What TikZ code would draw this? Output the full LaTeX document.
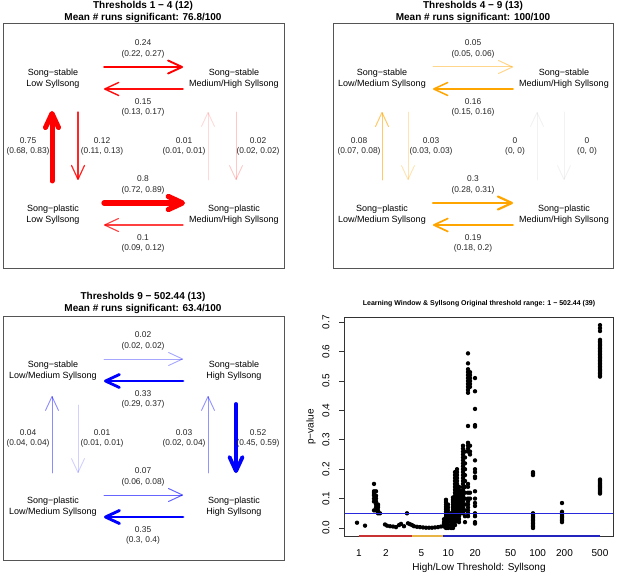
\documentclass[tikz,border=0pt]{standalone}
\usepackage{fontspec}
\setmainfont{Liberation Sans}
\usetikzlibrary{arrows.meta}
\definecolor{cred}{RGB}{255,0,0}
\definecolor{corange}{RGB}{255,165,0}
\definecolor{cblue}{RGB}{0,0,255}
\definecolor{framegray}{RGB}{85,85,85}
\definecolor{segred}{RGB}{200,50,50}
\definecolor{segorange}{RGB}{232,180,70}
\definecolor{segblue}{RGB}{35,35,190}
\definecolor{refblue}{RGB}{40,40,220}
\newcommand{\pcol}[2]{\foreach \pp in {#2} \fill (#1,{528-294*\pp}) circle[radius=2.2pt];}
\begin{document}
\begin{tikzpicture}[x=1pt,y=-1pt,
  state/.style={align=center, font=\fontsize{9}{11}\selectfont, inner sep=0pt},
  lab/.style={align=center, font=\fontsize{8.4}{10.5}\selectfont, inner sep=0pt, text=black!85},
  ttl/.style={align=center, font=\bfseries\fontsize{10}{12}\selectfont, inner sep=0pt},
  panel/.style={draw=framegray, line width=1pt},
  arr/.style n args={3}{draw=#1, draw opacity=#2, line width=#3, line cap=round,
     -{Straight Barb[length=14pt,width=13pt,round]}},
  axlab/.style={font=\fontsize{10}{12}\selectfont, inner sep=0pt},
  refline/.style={draw=refblue, line width=1.1pt}]
\useasboundingbox (0,0) rectangle (617,577);

% ================= Panel 1 =================
\node[ttl] (t1) at (143,12) {Thresholds 1 − 4 (12)\\Mean \# runs significant: 76.8/100};
\draw[panel] (3,24) rectangle (284,268);
\node[state] (a1) at (53,78.5) {Song−stable\\Low Syllsong};
\node[state] (b1) at (234,78.5) {Song−stable\\Medium/High Syllsong};
\node[state] (c1) at (53,214.5) {Song−plastic\\Low Syllsong};
\node[state] (d1) at (234,214.5) {Song−plastic\\Medium/High Syllsong};
\coordinate (p1ta) at (104,67); \coordinate (p1tb) at (183,67);
\coordinate (p1tc) at (183,89); \coordinate (p1td) at (104,89);
\coordinate (p1la) at (52,181); \coordinate (p1lb) at (52,111);
\coordinate (p1lc) at (78,112); \coordinate (p1ld) at (78,180);
\coordinate (p1ra) at (208,180); \coordinate (p1rb) at (208,112);
\coordinate (p1rc) at (236,112); \coordinate (p1rd) at (236,180);
\coordinate (p1ba) at (104,203); \coordinate (p1bb) at (185,203);
\coordinate (p1bc) at (183,225); \coordinate (p1bd) at (104,225);
\draw[arr={cred}{1}{1.9}] (p1ta) -- (p1tb);
\draw[arr={cred}{0.95}{1.4}] (p1tc) -- (p1td);
\draw[arr={cred}{1}{5}] (p1la) -- (p1lb);
\draw[arr={cred}{0.85}{1.2}] (p1lc) -- (p1ld);
\draw[arr={cred}{0.15}{0.9}] (p1ra) -- (p1rb);
\draw[arr={cred}{0.22}{0.9}] (p1rc) -- (p1rd);
\draw[arr={cred}{1}{5.3}] (p1ba) -- (p1bb);
\draw[arr={cred}{0.75}{1.1}] (p1bc) -- (p1bd);
\node[lab] (l1a) at (143,49) {0.24\\(0.22, 0.27)};
\node[lab] (l1b) at (143,107.5) {0.15\\(0.13, 0.17)};
\node[lab] (l1c) at (28,146.5) {0.75\\(0.68, 0.83)};
\node[lab] (l1d) at (102,146.5) {0.12\\(0.11, 0.13)};
\node[lab] (l1e) at (184,146.5) {0.01\\(0.01, 0.01)};
\node[lab] (l1f) at (258,146.5) {0.02\\(0.02, 0.02)};
\node[lab] (l1g) at (143,185) {0.8\\(0.72, 0.89)};
\node[lab] (l1h) at (143,243.5) {0.1\\(0.09, 0.12)};

% ================= Panel 2 =================
\node[ttl] (t2) at (473,12) {Thresholds 4 − 9 (13)\\Mean \# runs significant: 100/100};
\draw[panel] (333,24) rectangle (613,268);
\node[state] (a2) at (382,78.5) {Song−stable\\Low/Medium Syllsong};
\node[state] (b2) at (564,78.5) {Song−stable\\Medium/High Syllsong};
\node[state] (c2) at (382,214.5) {Song−plastic\\Low/Medium Syllsong};
\node[state] (d2) at (564,214.5) {Song−plastic\\Medium/High Syllsong};
\coordinate (p2ta) at (433,67); \coordinate (p2tb) at (513,67);
\coordinate (p2tc) at (513,89); \coordinate (p2td) at (433,89);
\coordinate (p2la) at (382,180); \coordinate (p2lb) at (382,112);
\coordinate (p2lc) at (408,112); \coordinate (p2ld) at (408,180);
\coordinate (p2ra) at (537,180); \coordinate (p2rb) at (537,112);
\coordinate (p2rc) at (564,112); \coordinate (p2rd) at (564,180);
\coordinate (p2ba) at (433,203); \coordinate (p2bb) at (513,203);
\coordinate (p2bc) at (513,225); \coordinate (p2bd) at (433,225);
\draw[arr={corange}{0.45}{1}] (p2ta) -- (p2tb);
\draw[arr={corange}{1}{1.5}] (p2tc) -- (p2td);
\draw[arr={corange}{0.6}{1}] (p2la) -- (p2lb);
\draw[arr={corange}{0.3}{0.9}] (p2lc) -- (p2ld);
\draw[arr={black}{0.05}{0.9}] (p2ra) -- (p2rb);
\draw[arr={black}{0.05}{0.9}] (p2rc) -- (p2rd);
\draw[arr={corange}{1}{2.2}] (p2ba) -- (p2bb);
\draw[arr={corange}{1}{1.7}] (p2bc) -- (p2bd);
\node[lab] (l2a) at (473,49) {0.05\\(0.05, 0.06)};
\node[lab] (l2b) at (473,107.5) {0.16\\(0.15, 0.16)};
\node[lab] (l2c) at (359,146.5) {0.08\\(0.07, 0.08)};
\node[lab] (l2d) at (431,146.5) {0.03\\(0.03, 0.03)};
\node[lab] (l2e) at (515,146.5) {0\\(0, 0)};
\node[lab] (l2f) at (587,146.5) {0\\(0, 0)};
\node[lab] (l2g) at (473,185) {0.3\\(0.28, 0.31)};
\node[lab] (l2h) at (473,243.5) {0.19\\(0.18, 0.2)};

% ================= Panel 3 =================
\node[ttl] (t3) at (143,303) {Thresholds 9 − 502.44 (13)\\Mean \# runs significant: 63.4/100};
\draw[panel] (3,316) rectangle (284,560);
\node[state] (a3) at (53,370.5) {Song−stable\\Low/Medium Syllsong};
\node[state] (b3) at (234,370.5) {Song−stable\\High Syllsong};
\node[state] (c3) at (53,506.5) {Song−plastic\\Low/Medium Syllsong};
\node[state] (d3) at (234,506.5) {Song−plastic\\High Syllsong};
\coordinate (p3ta) at (104,359); \coordinate (p3tb) at (183,359);
\coordinate (p3tc) at (183,381); \coordinate (p3td) at (104,381);
\coordinate (p3la) at (52,473); \coordinate (p3lb) at (52,396);
\coordinate (p3lc) at (78,405); \coordinate (p3ld) at (78,473);
\coordinate (p3ra) at (208,473); \coordinate (p3rb) at (208,396);
\coordinate (p3rc) at (236,404); \coordinate (p3rd) at (236,473);
\coordinate (p3ba) at (104,495); \coordinate (p3bb) at (183,495);
\coordinate (p3bc) at (183,517); \coordinate (p3bd) at (104,517);
\draw[arr={cblue}{0.35}{0.9}] (p3ta) -- (p3tb);
\draw[arr={cblue}{1}{2.8}] (p3tc) -- (p3td);
\draw[arr={cblue}{0.45}{0.9}] (p3la) -- (p3lb);
\draw[arr={cblue}{0.18}{0.9}] (p3lc) -- (p3ld);
\draw[arr={cblue}{0.42}{0.9}] (p3ra) -- (p3rb);
\draw[arr={cblue}{1}{3.9}] (p3rc) -- (p3rd);
\draw[arr={cblue}{0.6}{1}] (p3ba) -- (p3bb);
\draw[arr={cblue}{1}{2.9}] (p3bc) -- (p3bd);
\node[lab] (l3a) at (143,341) {0.02\\(0.02, 0.02)};
\node[lab] (l3b) at (143,399.5) {0.33\\(0.29, 0.37)};
\node[lab] (l3c) at (28,438.5) {0.04\\(0.04, 0.04)};
\node[lab] (l3d) at (102,438.5) {0.01\\(0.01, 0.01)};
\node[lab] (l3e) at (184,438.5) {0.03\\(0.02, 0.04)};
\node[lab] (l3f) at (258,438.5) {0.52\\(0.45, 0.59)};
\node[lab] (l3g) at (143,477) {0.07\\(0.06, 0.08)};
\node[lab] (l3h) at (143,535.5) {0.35\\(0.3, 0.4)};

% ================= Panel 4: scatter =================
\node[font=\bfseries\fontsize{7}{8}\selectfont, inner sep=0pt] (t4) at (479,304)
  {Learning Window \& Syllsong Original threshold range: 1 − 502.44 (39)};
% points
\foreach \x/\p in {357/0.018, 365/0.008, 380/0.05, 385/0.012, 387/0.008, 390/0.006, 393/0.005,
  396/0.003, 399/0.01, 401/0.014, 404/0.006, 407/0.05, 408/0.016, 410/0.013, 412/0.01,
  414/0.006, 417/0.004, 420/0.003, 423/0.002, 426/0.001, 429/0.001, 432/0.001, 435/0.002,
  438/0.003, 441/0.005}
  \fill (\x,{528-294*\p}) circle[radius=2.2pt];
\pcol{374}{0.15,0.125,0.12,0.115,0.11,0.1,0.09,0.06}
\pcol{376}{0.125,0.11,0.1,0.09,0.08,0.07,0.06}
\pcol{378}{0.08,0.075,0.07,0.06,0.05}
\pcol{444}{0.005,0.01,0.015,0.02,0.03}
\pcol{446}{0.0,0.008,...,0.096}
\pcol{448}{0.0,0.01,...,0.08}
\pcol{451}{0.0,0.01,...,0.05}
\pcol{453}{0.0,0.008,...,0.104}
\pcol{455}{0.01,0.02,...,0.2}
\pcol{457}{0.03,0.04,...,0.2}
\pcol{459}{0.02,0.03,...,0.14}
\pcol{461}{0.05,0.06,...,0.12}
\pcol{463}{0.05,0.06,...,0.28}
\pcol{465}{0.02,0.04,...,0.26}
\pcol{468}{0.594,0.56,0.54,0.53,0.52,0.51,0.5,0.49,0.48,0.47,0.46,0.347,0.29,0.28,0.27,0.26,0.15,0.14,0.12,0.1,0.09,0.08,0.07,0.06,0.05,0.04}
\pcol{470}{0.53,0.52,0.51,0.5,0.49,0.48,0.28,0.26,0.25,0.12,0.1}
\pcol{475}{0.51,0.465,0.405,0.35,0.345,0.23,0.2,0.19,0.175,0.17,0.125,0.1,0.085,0.075,0.05,0.04,0.02,0.015}
\pcol{533}{0.19,0.185,0.18,0.05,0.045,0.04,0.035,0.03,0.025,0.02,0.015,0.01,0.005,0.0}
\pcol{562}{0.085,0.055,0.05,0.045,0.04,0.035,0.03,0.025,0.02}
\pcol{600}{0.69,0.68,0.67,0.64,0.635,...,0.51}
\pcol{600}{0.165,0.161,...,0.115}
% reference line at p = 0.05
\coordinate (rl0) at (344,513.3);
\coordinate (rl1) at (613,513.3);
\draw[refline] (rl0) -- (rl1);
% box, segments
\draw[black!80, line width=0.9pt] (344,317) rectangle (613,536);
\draw[segred, line width=2.4pt] (359,536) -- (412,536);
\draw[segorange, line width=2.4pt] (412,536) -- (443,536);
\draw[segblue, line width=2.4pt] (443,536) -- (600,536);
% y axis
\foreach \v/\t in {0/0.0,1/0.1,2/0.2,3/0.3,4/0.4,5/0.5,6/0.6,7/0.7} {
  \draw[black!80, line width=0.7pt] (344,{528-29.4*\v}) -- (339,{528-29.4*\v});
  \node[axlab, rotate=90] at (326,{528-29.4*\v}) {\t};
}
\node[axlab, rotate=90] (ylab) at (311,427) {p−value};
% x axis
\foreach \xx/\t in {359/1,386/2,421.4/5,448.3/10,475.2/20,510.7/50,537.6/100,564.5/200,600/500}
  \node[axlab] at (\xx,553) {\t};
\node[axlab] (xlab) at (479,568) {High/Low Threshold: Syllsong};
\end{tikzpicture}
\end{document}
